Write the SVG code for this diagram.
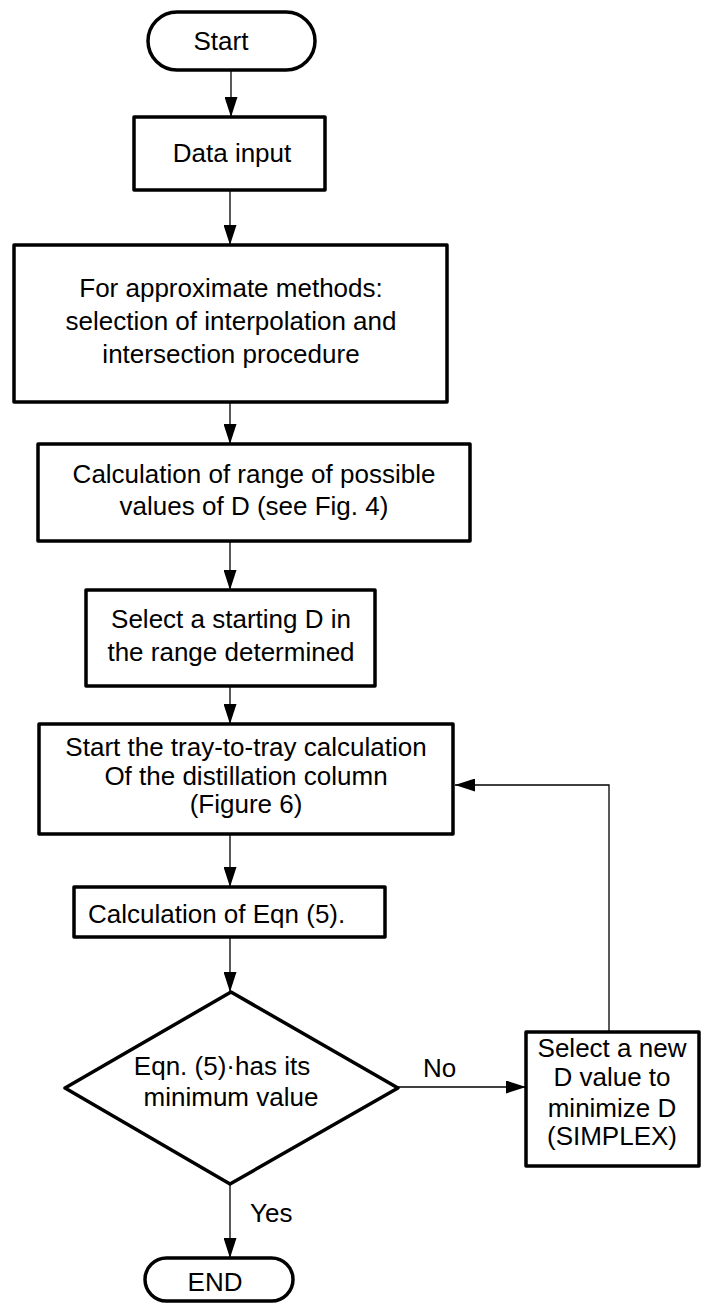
<svg xmlns="http://www.w3.org/2000/svg" width="701" height="1303" viewBox="0 0 701 1303">
<defs>
<marker id="ah" markerUnits="userSpaceOnUse" markerWidth="20" markerHeight="13" refX="20" refY="6.5" orient="auto">
<path d="M0,0 L20,6.5 L0,13 z" fill="#000"/>
</marker>
<style>
.box{fill:#fff;stroke:#000;stroke-width:3.5;stroke-linejoin:round}
.t{font-family:"Liberation Sans",Arial,sans-serif;font-size:26px;fill:#000;text-anchor:middle}
.ts{font-family:"Liberation Sans",Arial,sans-serif;font-size:26px;fill:#000;text-anchor:start}
.c{fill:none;stroke:#000;stroke-width:1.3}
</style>
</defs>
<rect width="701" height="1303" fill="#fff"/>
<g id="connectors">
<line class="c" x1="231" y1="70" x2="231" y2="117" marker-end="url(#ah)"/>
<line class="c" x1="230" y1="190" x2="230" y2="245" marker-end="url(#ah)"/>
<line class="c" x1="230" y1="402" x2="230" y2="444" marker-end="url(#ah)"/>
<line class="c" x1="230" y1="541" x2="230" y2="590" marker-end="url(#ah)"/>
<line class="c" x1="230" y1="686" x2="230" y2="724" marker-end="url(#ah)"/>
<line class="c" x1="230" y1="834" x2="230" y2="887" marker-end="url(#ah)"/>
<line class="c" x1="230" y1="937" x2="230" y2="992" marker-end="url(#ah)"/>
<line class="c" x1="230" y1="1184" x2="230" y2="1258" marker-end="url(#ah)"/>
<line class="c" x1="398" y1="1087" x2="526" y2="1087" marker-end="url(#ah)"/>
<polyline class="c" points="609,1032 609,785 455,785" marker-end="url(#ah)"/>
<text class="ts" x="250" y="1222">Yes</text>
<text class="ts" x="423" y="1077">No</text>
</g>
<g id="start">
<rect class="box" x="148" y="12" width="167" height="58" rx="29" ry="29"/>
<text class="t" x="221" y="50">Start</text>
</g>
<g id="data-input">
<rect class="box" x="134" y="117" width="191" height="73"/>
<text class="t" x="232" y="162">Data input</text>
</g>
<g id="approx-methods">
<rect class="box" x="14" y="245" width="433" height="157"/>
<text class="t" x="231" y="297">For approximate methods:</text>
<text class="t" x="231" y="330">selection of interpolation and</text>
<text class="t" x="231" y="363">intersection procedure</text>
</g>
<g id="range-calc">
<rect class="box" x="38" y="444" width="432" height="97"/>
<text class="t" x="254" y="483">Calculation of range of possible</text>
<text class="t" x="254" y="515">values of D (see Fig. 4)</text>
</g>
<g id="select-start">
<rect class="box" x="86" y="590" width="289" height="96"/>
<text class="t" x="231" y="628">Select a starting D in</text>
<text class="t" x="231" y="661">the range determined</text>
</g>
<g id="tray-calc">
<rect class="box" x="39" y="724" width="414" height="110"/>
<text class="t" x="246" y="756">Start the tray-to-tray calculation</text>
<text class="t" x="246" y="785">Of the distillation column</text>
<text class="t" x="246" y="813">(Figure 6)</text>
</g>
<g id="eqn-calc">
<rect class="box" x="74" y="887" width="311" height="50"/>
<text class="ts" x="88" y="923">Calculation of Eqn (5).</text>
</g>
<g id="decision">
<polygon class="box" points="231,992 398,1088 230,1184 65,1088"/>
<text class="t" x="222" y="1075">Eqn. (5)·has its</text>
<text class="t" x="231" y="1106">minimum value</text>
</g>
<g id="select-new">
<rect class="box" x="526" y="1032" width="173" height="134"/>
<text class="t" x="612" y="1057">Select a new</text>
<text class="t" x="612" y="1086">D value to</text>
<text class="t" x="612" y="1117">minimize D</text>
<text class="t" x="612" y="1145">(SIMPLEX)</text>
</g>
<g id="end">
<rect class="box" x="145" y="1258" width="148" height="43" rx="21.5" ry="21.5"/>
<text class="t" x="215" y="1291">END</text>
</g>
</svg>
